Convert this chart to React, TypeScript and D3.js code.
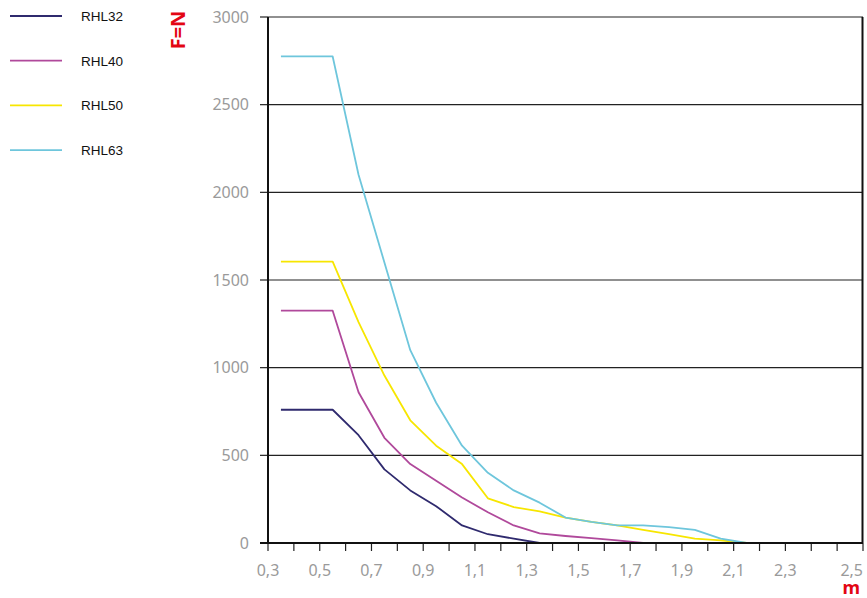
import React from "react";
import * as d3 from "d3";

const xValues = [0.35, 0.45, 0.55, 0.65, 0.75, 0.85, 0.95, 1.05, 1.15, 1.25, 1.35, 1.45, 1.55, 1.65, 1.75, 1.85, 1.95, 2.05, 2.15, 2.25, 2.35, 2.45, 2.55];
const rhl32 = [760, 760, 760, 615, 420, 300, 210, 100, 50, 25, 0, 0, 0, 0, 0, 0, 0, 0, 0, 0, 0, 0, 0];
const rhl40 = [1325, 1325, 1325, 860, 600, 450, 355, 260, 175, 100, 55, 40, 28, 15, 0, 0, 0, 0, 0, 0, 0, 0, 0];
const rhl50 = [1605, 1605, 1605, 1260, 955, 700, 555, 450, 255, 205, 180, 145, 120, 100, 75, 50, 25, 15, 0, 0, 0, 0, 0];
const rhl63 = [2775, 2775, 2775, 2100, 1600, 1100, 800, 555, 400, 300, 230, 145, 120, 100, 100, 90, 75, 25, 0, 0, 0, 0, 0];
const seriesNames = ["RHL32", "RHL40", "RHL50", "RHL63"];
const seriesColors = ["#2f2a6e", "#b0499b", "#f7e600", "#6ec6dc"];
const yTicks = [0, 500, 1000, 1500, 2000, 2500, 3000];
const xTickValues = d3.range(0, 24).map((i) => +(0.3 + i * 0.1).toFixed(1));
const xLabels = ["0,3", "0,5", "0,7", "0,9", "1,1", "1,3", "1,5", "1,7", "1,9", "2,1", "2,3", "2,5"];
const xLabelValues = [0.3, 0.5, 0.7, 0.9, 1.1, 1.3, 1.5, 1.7, 1.9, 2.1, 2.3, 2.5];

export default function App() {
  const W = 867, H = 598;
  const left = 268, right = 863, top = 17, bottom = 543;
  const x = d3.scaleLinear().domain([0.3, 2.6]).range([left, right]);
  const y = d3.scaleLinear().domain([0, 3000]).range([bottom, top]);
  const series = [rhl32, rhl40, rhl50, rhl63];
  const line = d3.line<number>().x((_, i) => x(xValues[i])).y((d) => y(d));
  const tickFont = "'Noto Sans', sans-serif";

  return (
    <svg width={W} height={H} style={{ position: "absolute", left: 0, top: 0, background: "#fff" }}>
      {yTicks.map((t) => (
        <g key={"g" + t}>
          {t > 0 && <line x1={left} x2={right} y1={y(t)} y2={y(t)} stroke="#222" strokeWidth={1.2} />}
          <line x1={left - 8} x2={left} y1={y(t)} y2={y(t)} stroke="#222" strokeWidth={1.2} />
          <text x={249} y={y(t)} dy="0.35em" textAnchor="end" fontFamily={tickFont} fontSize={16} fill="#9a9a9a">
            {t}
          </text>
        </g>
      ))}
      {xTickValues.map((v) => (
        <line key={"xt" + v} x1={x(v)} x2={x(v)} y1={bottom} y2={bottom + 8} stroke="#222" strokeWidth={1.2} />
      ))}
      {xLabelValues.map((v, i) => {
        const last = i === xLabelValues.length - 1;
        return (
          <text
            key={"xl" + v}
            x={last ? right : x(v)}
            y={576}
            textAnchor={last ? "end" : "middle"}
            fontFamily={tickFont}
            fontSize={16}
            fill="#9a9a9a"
          >
            {xLabels[i]}
          </text>
        );
      })}
      {series.map((s, i) => (
        <path key={seriesNames[i]} d={line(s) || ""} fill="none" stroke={seriesColors[i]} strokeWidth={1.8} strokeLinejoin="round" />
      ))}
      <line x1={left} x2={left} y1={top} y2={bottom} stroke="#111" strokeWidth={2} />
      <line x1={right - 0.5} x2={right - 0.5} y1={top} y2={bottom} stroke="#111" strokeWidth={2} />
      <line x1={left - 8} x2={right} y1={bottom} y2={bottom} stroke="#111" strokeWidth={2} />
      {seriesNames.map((n, i) => {
        const ly = 16 + i * 44.7;
        return (
          <g key={"lg" + n}>
            <line x1={10} x2={62} y1={ly} y2={ly} stroke={seriesColors[i]} strokeWidth={1.8} />
            <text x={81} y={ly} dy="0.36em" fontFamily="'Liberation Sans Narrow', 'Liberation Sans', sans-serif" fontSize={13.5} fill="#111">
              {n}
            </text>
          </g>
        );
      })}
      <text
        transform="translate(185,30) rotate(-90)"
        textAnchor="middle"
        fontFamily={tickFont}
        fontWeight="bold"
        fontSize={20}
        fill="#e30613"
      >
        F=N
      </text>
      <text x={860} y={594} textAnchor="end" fontFamily={tickFont} fontWeight="bold" fontSize={18} fill="#e30613">
        m
      </text>
    </svg>
  );
}
